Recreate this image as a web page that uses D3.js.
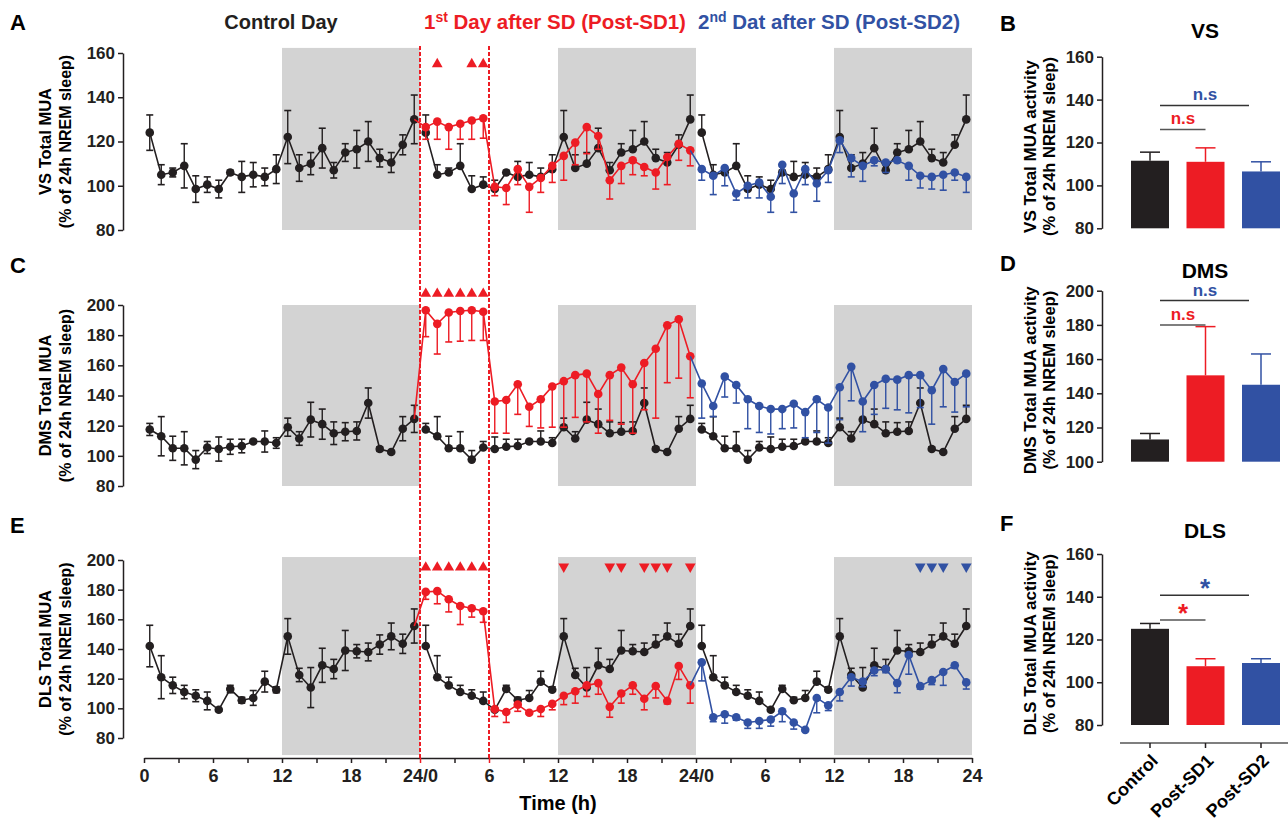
<!DOCTYPE html>
<html>
<head>
<meta charset="utf-8">
<script src="https://cdn.jsdelivr.net/npm/d3@7"></script>
<style>
  body { margin: 0; background: #fff; }
  text { font-family: "Liberation Sans", Arial, Helvetica, sans-serif; font-weight: bold; }
</style>
</head>
<body>
<svg id="fig" width="1288" height="822"></svg>
<script>
// ---- data ----
// mid-points of the 1 h bins of one day
const hours = [0.5, 1.5, 2.5, 3.5, 4.5, 5.5, 6.5, 7.5, 8.5, 9.5, 10.5, 11.5,
  12.5, 13.5, 14.5, 15.5, 16.5, 17.5, 18.5, 19.5, 20.5, 21.5, 22.5, 23.5];
const dayOffsets = [0, 24, 48];
const nightBlocks = [[12, 24], [36, 48], [60, 72]];
const xTickLabels = ["0", "6", "12", "18", "24/0", "6", "12", "18", "24/0", "6", "12", "18", "24"];

// VS
const vsControl = [124, 105, 106, 109, 98.5, 100.5, 98.5, 106, 104, 105, 104, 107.5, 122, 108, 110, 117, 107, 115, 116.5, 120, 112.5, 110.5, 118.5, 130];
const vsControlErr = [8, 4.5, 2, 10, 6, 3.5, 4, 1, 7, 5.5, 4, 6.5, 12, 6, 5, 9, 3.5, 4, 8.5, 9, 4, 4.5, 4.5, 11];
const vsPost1 = [126.5, 129, 126.5, 128, 129.5, 130.5, 99.5, 99, 107.5, 99.5, 103.5, 109, 113.5, 119.5, 126.5, 122.5, 102.5, 109, 111.5, 108.5, 106, 113, 119, 116];
const vsPost1Err = [5.5, 8, 10, 7, 8.5, 9, 4, 7.5, 7, 11.5, 6.5, 7.5, 11, 10, 12, 6, 8.5, 8, 6.5, 4, 7.5, 12.5, 7.5, 7];
const vsPost2 = [107.5, 104.5, 108, 96.5, 100, 101.5, 95, 109.5, 96.5, 107.5, 101, 107, 120.5, 112.5, 109, 111.5, 110.5, 111.5, 109, 104.5, 104, 105, 106, 104];
const vsPost2Err = [5, 8.5, 8, 3, 5.5, 7, 7, 8.5, 8.5, 7, 8, 5.5, 5.5, 8.5, 7, 2.5, 4.5, 1, 6.5, 5.5, 5.5, 7, 3.5, 7];

// DMS
const dmsControl = [117.5, 113, 105, 105, 97.5, 105.5, 104.5, 106, 106.5, 109.5, 109.5, 108.5, 119, 111.5, 124, 121, 115, 116, 116.5, 135, 104.5, 102.5, 118, 124.5];
const dmsControlErr = [4, 13, 8, 11, 6, 4, 8, 5, 4.5, 1, 7, 3.5, 6, 4.5, 11.5, 10, 7.5, 6, 6, 10, 1.5, 1, 8, 9];
const dmsPost1 = [196.5, 187.5, 195, 196, 196.5, 195.5, 136, 137, 147.5, 132.5, 137.5, 146, 149.5, 153.5, 154.5, 141, 153.5, 158.5, 147.5, 161.5, 171, 186.5, 190.5, 166];
const dmsPost1Err = [17.5, 20, 19.5, 20, 20, 19, 21, 22, 20, 13, 19, 27, 30.5, 28, 32, 26, 30, 37.5, 32.5, 31, 46, 38, 39, 27.5];
const dmsPost2 = [148, 133, 152.5, 147, 137.5, 133, 131, 131, 134.5, 129, 137.5, 132, 145.5, 159, 136, 147, 151, 150.5, 153.5, 153.5, 143.5, 157.5, 149, 154.5];
const dmsPost2Err = [23, 7, 13.5, 12, 19.5, 17.5, 16.5, 13, 16, 17, 22, 23.5, 21.5, 22.5, 20, 19.5, 19.5, 20, 25, 21.5, 22.5, 25, 20, 22];

// DLS
const dlsControl = [142, 121, 115.5, 111, 108.5, 105, 99, 113, 105.5, 107, 118, 112.5, 148.5, 122.5, 114, 129, 126.5, 139, 138.5, 138, 143, 148.5, 143.5, 155.5];
const dlsControlErr = [14, 14.5, 5.5, 4.5, 4, 6, 1, 2.5, 2, 5, 7, 2, 12, 4.5, 13.5, 11.5, 6.5, 13.5, 4.5, 6, 6.5, 9, 6.5, 11.5];
const dlsPost1 = [178.5, 179, 173.5, 169, 167.5, 165.5, 99.5, 97.5, 102.5, 97, 99.5, 103, 108.5, 111.5, 115.5, 117, 101, 110, 115.5, 106.5, 115, 105, 128.5, 115.5];
const dlsPost1Err = [5, 8.5, 8.5, 12.5, 6, 7.5, 5, 7, 4.5, 1, 5, 4, 6, 8, 7.5, 7.5, 7, 6.5, 6, 7.5, 8, 2, 9, 12];
const dlsPost2 = [131, 94, 96, 94, 90.5, 91.5, 92.5, 98, 90.5, 85.5, 107, 102, 111, 121, 118, 125.5, 126.5, 117, 136, 115, 119, 124.5, 129, 117.5];
const dlsPost2Err = [12.5, 3, 6, 2, 4, 5, 4.5, 7, 4.5, 1, 10, 3.5, 6, 6, 3.5, 3.5, 2.5, 6.5, 13, 2, 3, 9, 2, 4.5];

// significance marks (hour of the bin)
const vsSigUp = [25.5, 28.5, 29.5];
const dmsSigUp = [24.5, 25.5, 26.5, 27.5, 28.5, 29.5];
const dlsSigUp = [24.5, 25.5, 26.5, 27.5, 28.5, 29.5];
const dlsSigDownRed = [36.5, 40.5, 41.5, 43.5, 44.5, 45.5, 47.5];
const dlsSigDownBlue = [67.5, 68.5, 69.5, 71.5];

// 24 h averages
const barGroups = ["Control", "Post-SD1", "Post-SD2"];
const vsBars = [111.5, 111, 106.5];
const vsBarErr = [4, 6.5, 4.5];
const dmsBars = [113, 150.5, 145];
const dmsBarErr = [3.5, 28.5, 18];
const dlsBars = [125, 107.5, 109];
const dlsBarErr = [2.5, 3.5, 2];

// ---- styles ----
const cBlack = "#231f20", cRed = "#ed1c24", cBlue = "#3151a3", cShade = "#d3d3d3";

const svg = d3.select("#fig");
const x = d3.scaleLinear().domain([0, 72]).range([144, 972]);

function styleAxis(g, size) {
  g.selectAll("path, line").attr("stroke", cBlack).attr("stroke-width", 1.5);
  g.selectAll("text").style("font-size", size + "px").attr("fill", cBlack)
    .style("font-family", "'Liberation Sans', Arial, sans-serif").style("font-weight", "bold");
}

function errorBars(g, pts, y, color, dir) {
  pts.forEach(function (d) {
    const ends = [];
    if (dir !== "down") ends.push(d.v + d.e);
    if (dir !== "up") ends.push(d.v - d.e);
    ends.forEach(function (end) {
      g.append("line").attr("x1", x(d.t)).attr("x2", x(d.t))
        .attr("y1", y(d.v)).attr("y2", y(end))
        .attr("stroke", color).attr("stroke-width", 1.4);
      g.append("line").attr("x1", x(d.t) - 3.5).attr("x2", x(d.t) + 3.5)
        .attr("y1", y(end)).attr("y2", y(end))
        .attr("stroke", color).attr("stroke-width", 1.6);
    });
  });
}

function series(g, pts, y, color) {
  const line = d3.line().x(d => x(d.t)).y(d => y(d.v));
  g.append("path").datum(pts).attr("d", line).attr("fill", "none")
    .attr("stroke", color).attr("stroke-width", 1.6);
}

function dots(g, pts, y, color) {
  g.selectAll(null).data(pts).enter().append("circle")
    .attr("cx", d => x(d.t)).attr("cy", d => y(d.v)).attr("r", 4.3).attr("fill", color);
}

function toPts(vals, errs, off) {
  return hours.map((h, i) => ({ t: h + off, v: vals[i], e: errs[i] }));
}

function linePanel(p) {
  const y = d3.scaleLinear().domain(p.domain).range(p.range);
  const g = svg.append("g");

  // dark phases
  nightBlocks.forEach(function (b) {
    g.append("rect").attr("x", x(b[0])).attr("width", x(b[1]) - x(b[0]))
      .attr("y", y(p.shade[1])).attr("height", y(p.shade[0]) - y(p.shade[1]))
      .attr("fill", cShade);
  });

  // y axis
  const ax = g.append("g").attr("transform", "translate(123,0)")
    .call(d3.axisLeft(y).tickValues(p.ticks).tickSize(5).tickSizeOuter(0).tickPadding(3));
  styleAxis(ax, 17);

  // axis title
  const cy = (p.range[0] + p.range[1]) / 2;
  g.append("text").attr("transform", "translate(51," + cy + ") rotate(-90)")
    .attr("text-anchor", "middle").style("font-size", "16.5px").text(p.name + " Total MUA");
  g.append("text").attr("transform", "translate(71," + cy + ") rotate(-90)")
    .attr("text-anchor", "middle").style("font-size", "16px").text("(% of 24h NREM sleep)");
  g.append("text").attr("x", 10).attr("y", p.letterY).style("font-size", "22px").text(p.letter);

  // control day, repeated on the two following days
  const ctrl = dayOffsets.map(off => toPts(p.control, p.controlErr, off));
  ctrl.forEach((pts, i) => errorBars(g, pts, y, cBlack, i === 0 ? "both" : "up"));
  ctrl.forEach(pts => series(g, pts, y, cBlack));
  ctrl.forEach(pts => dots(g, pts, y, cBlack));

  // post-SD1 (day 2), joined to the last control point
  const p1 = toPts(p.post1, p.post1Err, 24);
  errorBars(g, p1, y, cRed, "down");
  series(g, [ctrl[0][23]].concat(p1), y, cRed);
  dots(g, p1, y, cRed);

  // post-SD2 (day 3), joined to the last post-SD1 point
  const p2 = toPts(p.post2, p.post2Err, 48);
  errorBars(g, p2, y, cBlue, "down");
  series(g, [p1[23]].concat(p2), y, cBlue);
  dots(g, p2, y, cBlue);

  // significance triangles
  p.marks.forEach(function (m) {
    g.selectAll(null).data(m.hours).enter().append("path")
      .attr("d", d3.symbol(d3.symbolTriangle, 50))
      .attr("transform", d => "translate(" + x(d) + "," + y(m.level) + ")" + (m.down ? " rotate(180)" : ""))
      .attr("fill", m.color);
  });
  return y;
}

linePanel({
  letter: "A", letterY: 30, name: "VS",
  domain: [80, 160], range: [230, 53], ticks: [80, 100, 120, 140, 160], shade: [80, 162.3],
  control: vsControl, controlErr: vsControlErr, post1: vsPost1, post1Err: vsPost1Err,
  post2: vsPost2, post2Err: vsPost2Err,
  marks: [{ hours: vsSigUp, level: 155, color: cRed, down: false }]
});

linePanel({
  letter: "C", letterY: 273, name: "DMS",
  domain: [80, 200], range: [486, 305], ticks: [80, 100, 120, 140, 160, 180, 200], shade: [80, 200],
  control: dmsControl, controlErr: dmsControlErr, post1: dmsPost1, post1Err: dmsPost1Err,
  post2: dmsPost2, post2Err: dmsPost2Err,
  marks: [{ hours: dmsSigUp, level: 207.5, color: cRed, down: false }]
});

linePanel({
  letter: "E", letterY: 533, name: "DLS",
  domain: [80, 200], range: [738, 560], ticks: [80, 100, 120, 140, 160, 180, 200], shade: [68.5, 202],
  control: dlsControl, controlErr: dlsControlErr, post1: dlsPost1, post1Err: dlsPost1Err,
  post2: dlsPost2, post2Err: dlsPost2Err,
  marks: [
    { hours: dlsSigUp, level: 195, color: cRed, down: false },
    { hours: dlsSigDownRed, level: 195.5, color: cRed, down: true },
    { hours: dlsSigDownBlue, level: 195.5, color: cBlue, down: true }
  ]
});

// shared time axis
const xa = svg.append("g").attr("transform", "translate(0,758)")
  .call(d3.axisBottom(x).tickValues(d3.range(0, 73, 3)).tickSize(5).tickSizeOuter(0).tickPadding(6)
    .tickFormat(t => t % 6 === 0 ? xTickLabels[t / 6] : ""));
styleAxis(xa, 18);
xa.selectAll(".tick line").filter(t => t === 24 || t === 30).attr("stroke", cRed);
svg.append("text").attr("x", 558).attr("y", 810).attr("text-anchor", "middle")
  .style("font-size", "20px").text("Time (h)");

// sleep deprivation window
[24, 30].forEach(function (t) {
  svg.append("line").attr("x1", x(t)).attr("x2", x(t)).attr("y1", 46).attr("y2", 760)
    .attr("stroke", cRed).attr("stroke-width", 2).attr("stroke-dasharray", "4,2");
});

// header
svg.append("text").attr("x", 281).attr("y", 29).attr("text-anchor", "middle")
  .style("font-size", "20px").attr("fill", cBlack).text("Control Day");
function header(x0, color, num, sup, rest) {
  const t = svg.append("text").attr("x", x0).attr("y", 29).attr("fill", color).style("font-size", "20.5px");
  t.append("tspan").text(num);
  t.append("tspan").attr("dy", -7).style("font-size", "14px").text(sup);
  t.append("tspan").attr("dy", 7).text(rest);
}
header(424, cRed, "1", "st", " Day after SD (Post-SD1)");
header(698, cBlue, "2", "nd", " Dat after SD (Post-SD2)");

// ---- 24 h average bar panels ----
const xb = d3.scalePoint().domain(barGroups).range([1150, 1261]);
const barColors = [cBlack, cRed, cBlue];

function barPanel(p) {
  const y = d3.scaleLinear().domain(p.domain).range(p.range);
  const g = svg.append("g");
  g.selectAll(null).data(p.values).enter().append("rect")
    .attr("x", (d, i) => xb(barGroups[i]) - 19).attr("width", 38)
    .attr("y", d => y(d)).attr("height", d => y(p.domain[0]) - y(d))
    .attr("fill", (d, i) => barColors[i]);
  p.values.forEach(function (v, i) {
    const cx = xb(barGroups[i]);
    g.append("line").attr("x1", cx).attr("x2", cx).attr("y1", y(v)).attr("y2", y(v + p.errs[i]))
      .attr("stroke", barColors[i]).attr("stroke-width", 1.5);
    g.append("line").attr("x1", cx - 10).attr("x2", cx + 10).attr("y1", y(v + p.errs[i])).attr("y2", y(v + p.errs[i]))
      .attr("stroke", barColors[i]).attr("stroke-width", 1.5);
  });

  const ax = g.append("g").attr("transform", "translate(1102,0)")
    .call(d3.axisLeft(y).tickValues(p.ticks).tickSize(5).tickSizeOuter(0).tickPadding(3));
  styleAxis(ax, 17);

  const cy = (p.range[0] + p.range[1]) / 2 + 4;
  g.append("text").attr("transform", "translate(1036," + cy + ") rotate(-90)")
    .attr("text-anchor", "middle").style("font-size", "17px").text(p.name + " Total MUA activity");
  g.append("text").attr("transform", "translate(1055," + cy + ") rotate(-90)")
    .attr("text-anchor", "middle").style("font-size", "16.5px").text("(% of 24h NREM sleep)");
  g.append("text").attr("x", 1000).attr("y", p.letterY).style("font-size", "22px").text(p.letter);
  g.append("text").attr("x", 1205).attr("y", p.letterY + 7).attr("text-anchor", "middle")
    .style("font-size", "21px").text(p.name);

  // comparisons
  const x0 = xb(barGroups[0]) + 10;
  g.append("line").attr("x1", x0).attr("x2", xb(barGroups[2]) - 12)
    .attr("y1", y(p.sigLevels[1])).attr("y2", y(p.sigLevels[1])).attr("stroke", "#333").attr("stroke-width", 1.5);
  g.append("line").attr("x1", x0).attr("x2", xb(barGroups[1]))
    .attr("y1", y(p.sigLevels[0])).attr("y2", y(p.sigLevels[0])).attr("stroke", "#555").attr("stroke-width", 1.5);
  const star = p.sigText === "*";
  g.append("text").attr("x", 1183).attr("y", y(p.sigLevels[0]) - (star ? -2 : 5))
    .attr("text-anchor", "middle").attr("fill", cRed).style("font-size", star ? "26px" : "17px").text(p.sigText);
  g.append("text").attr("x", 1205).attr("y", y(p.sigLevels[1]) - (star ? -2 : 5))
    .attr("text-anchor", "middle").attr("fill", cBlue).style("font-size", star ? "26px" : "17px").text(p.sigText);
  return y;
}

barPanel({
  letter: "B", letterY: 31, name: "VS", domain: [80, 160], range: [228.3, 56.7],
  ticks: [80, 100, 120, 140, 160], values: vsBars, errs: vsBarErr, sigLevels: [126.1, 137.3], sigText: "n.s"
});
barPanel({
  letter: "D", letterY: 271, name: "DMS", domain: [100, 200], range: [461.7, 290.7],
  ticks: [100, 120, 140, 160, 180, 200], values: dmsBars, errs: dmsBarErr, sigLevels: [179.9, 194.2], sigText: "n.s"
});
barPanel({
  letter: "F", letterY: 531, name: "DLS", domain: [80, 160], range: [725, 554],
  ticks: [80, 100, 120, 140, 160], values: dlsBars, errs: dlsBarErr, sigLevels: [129.1, 140.7], sigText: "*"
});

// category axis under F
svg.append("line").attr("x1", 1120).attr("x2", 1288).attr("y1", 743).attr("y2", 743)
  .attr("stroke", "#555").attr("stroke-width", 1.5);
barGroups.forEach(function (gName) {
  const cx = xb(gName);
  svg.append("line").attr("x1", cx).attr("x2", cx).attr("y1", 743).attr("y2", 748)
    .attr("stroke", cBlack).attr("stroke-width", 1.5);
  svg.append("text").attr("text-anchor", "end")
    .attr("transform", "translate(" + (cx + 9) + ",762) rotate(-45)")
    .style("font-size", "18px").text(gName);
});
</script>
</body>
</html>
